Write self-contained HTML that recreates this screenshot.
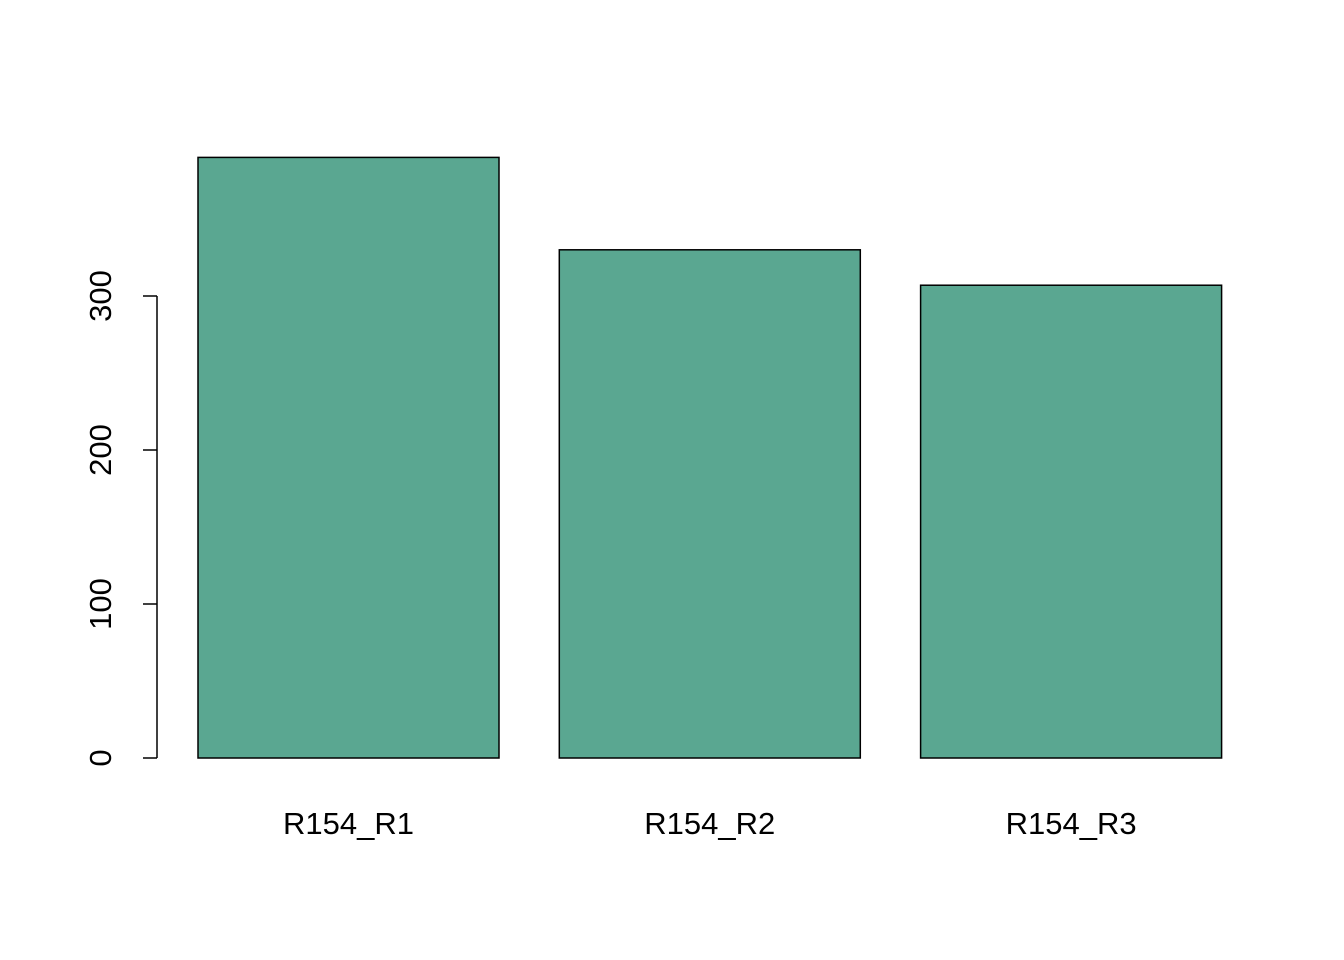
<!DOCTYPE html>
<html><head><meta charset="utf-8"><style>
html,body{margin:0;padding:0;background:#fff;}
svg{display:block;font-family:"Liberation Sans",Arial,sans-serif;}
</style></head><body>
<svg id="chart" width="1344" height="960" viewBox="0 0 1344 960" xmlns="http://www.w3.org/2000/svg">
<g id="bars"></g>
<g id="yaxis"></g>
<g id="xlabels"></g>
</svg>
<script>
const categories = ["R154_R1","R154_R2","R154_R3"];
const values = [390, 330, 307];
const yTicks = [0, 100, 200, 300];

const NS = "http://www.w3.org/2000/svg";
const y0 = 758, pxPerUnit = 1.54;
function yScale(v){ return y0 - v * pxPerUnit; }
const barLeft0 = 198, barW = 301, barStep = 361.3;
function xScale(i){ return barLeft0 + i * barStep; }

const bars = document.getElementById('bars');
const xl = document.getElementById('xlabels');
values.forEach((v,i)=>{
  const r = document.createElementNS(NS,'rect');
  r.setAttribute('x', xScale(i)); r.setAttribute('y', yScale(v));
  r.setAttribute('width', barW); r.setAttribute('height', y0 - yScale(v));
  r.setAttribute('fill', '#5aa791'); r.setAttribute('stroke', '#000'); r.setAttribute('stroke-width', '1.5');
  
  
  bars.appendChild(r);
  const t = document.createElementNS(NS,'text');
  t.setAttribute('x', xScale(i) + barW/2); t.setAttribute('y', 834);
  t.setAttribute('text-anchor','middle'); t.setAttribute('font-size','31');
  t.textContent = categories[i];
  
  
  xl.appendChild(t);
});

const ya = document.getElementById('yaxis');
const line = document.createElementNS(NS,'line');
line.setAttribute('x1',157); line.setAttribute('x2',157);
line.setAttribute('y1',yScale(yTicks[0])); line.setAttribute('y2',yScale(yTicks[yTicks.length-1]));
line.setAttribute('stroke','#000'); line.setAttribute('stroke-width','1.5');


ya.appendChild(line);
yTicks.forEach(v=>{
  const tk = document.createElementNS(NS,'line');
  tk.setAttribute('x1',143); tk.setAttribute('x2',157);
  tk.setAttribute('y1',yScale(v)); tk.setAttribute('y2',yScale(v));
  tk.setAttribute('stroke','#000'); tk.setAttribute('stroke-width','1.5');
  
  
  ya.appendChild(tk);
  const t = document.createElementNS(NS,'text');
  t.setAttribute('transform','translate(111,'+yScale(v)+') rotate(-90)');
  t.setAttribute('text-anchor','middle'); t.setAttribute('font-size','31');
  t.textContent = v;
  
  
  ya.appendChild(t);
});
</script>
</body></html>
